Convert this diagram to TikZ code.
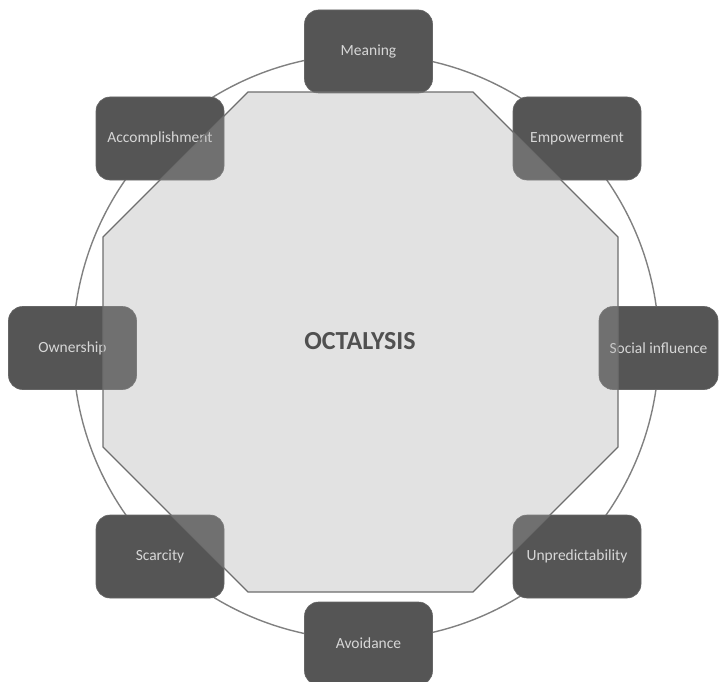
\documentclass[tikz,border=0pt]{standalone}
\usepackage{fontspec}
\setmainfont{Carlito}
\definecolor{boxfill}{RGB}{85,85,85}
\definecolor{boxtext}{RGB}{215,215,215}
\definecolor{ringcol}{RGB}{128,128,128}
\definecolor{octfill}{RGB}{167,167,167}
\definecolor{octline}{RGB}{110,110,110}
\definecolor{titlecol}{RGB}{80,80,80}
\begin{document}
\begin{tikzpicture}[x=1pt,y=-1pt,
  drive/.style={fill=boxfill,draw=boxfill!90!white,line width=0.6pt,rounded corners=14pt,
    minimum width=128pt,minimum height=83pt,inner sep=0pt,text=boxtext,
    font=\fontsize{15.5}{18}\selectfont},
  ring/.style={draw=ringcol,line width=1.4pt},
  oct/.style={fill=octfill,fill opacity=0.33,draw=octline,line width=1.1pt}]
\useasboundingbox (0,0) rectangle (720,682);
% ring
\draw[ring] (366,347) circle[radius=293];
% drives
\node[drive] (meaning) at (368.5,51.5) {Meaning};
\node[drive] (accomp) at (160,138.5) {Accomplishment};
\node[drive] (empower) at (577,138.5) {Empowerment};
\node[drive] (owner) at (72.5,348) {Ownership};
\node[drive,minimum width=119pt] (social) at (658.5,348) {Social influence};
\node[drive] (scarcity) at (160,556.5) {Scarcity};
\node[drive] (unpred) at (577,556.5) {Unpredictability};
\node[drive] (avoid) at (368.5,643.5) {Avoidance};
% octagon
\draw[oct] (248,92) -- (473,92) -- (618,237) -- (618,447) -- (473,592) -- (248,592) -- (103,447) -- (103,237) -- cycle;
\node[text=titlecol,font=\fontsize{26}{30}\selectfont\bfseries] (title) at (360,341) {OCTALYSIS};
\end{tikzpicture}
\end{document}
